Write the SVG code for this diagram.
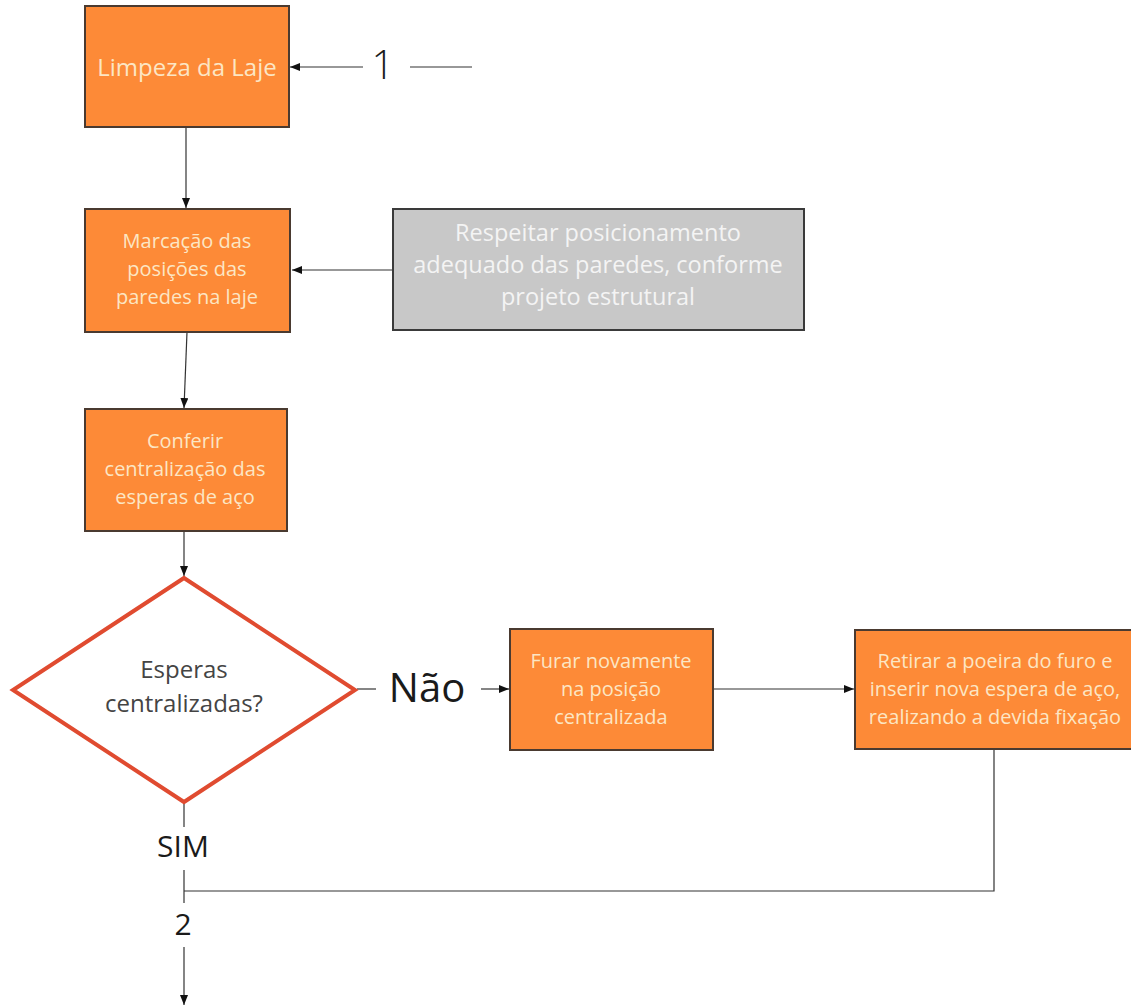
<svg xmlns="http://www.w3.org/2000/svg" width="1131" height="1007" viewBox="0 0 1131 1007">
<defs>
<style>
.box{fill:#FD8A37;stroke:#4a3a30;stroke-width:2}
.gray{fill:#C8C8C8;stroke:#3a3a3a;stroke-width:2}
.bt{font-family:"Open Sans","Noto Sans",sans-serif;font-size:20px;fill:#FCE6C4;text-anchor:middle}
.gt{font-family:"Open Sans","Noto Sans",sans-serif;font-size:23.5px;fill:#F4F4F4;text-anchor:middle}
.lbl{font-family:"Open Sans","Noto Sans",sans-serif;fill:#1a1a1a;text-anchor:middle}
.ln{fill:none;stroke:#333;stroke-width:1.2}
</style>
<marker id="ah" viewBox="0 0 10 8" refX="10" refY="4" markerWidth="10" markerHeight="8" markerUnits="userSpaceOnUse" orient="auto">
<path d="M0,0 L10,4 L0,8 Z" fill="#111"/>
</marker>
</defs>
<rect width="1131" height="1007" fill="#fff"/>
<g id="connectors">
<line class="ln" x1="363" y1="67" x2="290" y2="67" marker-end="url(#ah)"/>
<line class="ln" x1="410" y1="67" x2="472" y2="67"/>
<line class="ln" x1="186" y1="128" x2="186" y2="208" marker-end="url(#ah)"/>
<line class="ln" x1="392" y1="270" x2="292" y2="270" marker-end="url(#ah)"/>
<line class="ln" x1="187" y1="332" x2="184" y2="408" marker-end="url(#ah)"/>
<line class="ln" x1="184" y1="531" x2="184" y2="576" marker-end="url(#ah)"/>
<line class="ln" x1="357" y1="689" x2="376" y2="689"/>
<line class="ln" x1="481" y1="689" x2="509" y2="689" marker-end="url(#ah)"/>
<line class="ln" x1="714" y1="689" x2="854" y2="689" marker-end="url(#ah)"/>
<polyline class="ln" points="994,750 994,891 184,891"/>
<line class="ln" x1="184" y1="803" x2="184" y2="827"/>
<line class="ln" x1="184" y1="870" x2="184" y2="903"/>
<line class="ln" x1="184" y1="947" x2="184" y2="1005" marker-end="url(#ah)"/>
</g>
<g id="labels">
<text class="lbl" x="383" y="79" style="font-size:40px;font-weight:300">1</text>
<text class="lbl" x="427" y="702" style="font-size:40px">Não</text>
<text class="lbl" x="183" y="857" style="font-size:30px">SIM</text>
<text class="lbl" x="183" y="935" style="font-size:30px">2</text>
</g>
<g id="n1">
<rect class="box" x="85" y="6" width="204" height="121"/>
<text class="bt" x="187" y="76" style="font-size:24px">Limpeza da Laje</text>
</g>
<g id="n2">
<rect class="box" x="85" y="209" width="205" height="123"/>
<text class="bt" x="187" y="248">Marcação das</text>
<text class="bt" x="187" y="276">posições das</text>
<text class="bt" x="187" y="304">paredes na laje</text>
</g>
<g id="n_note">
<rect class="gray" x="393" y="209" width="411" height="121"/>
<text class="gt" x="598" y="241">Respeitar posicionamento</text>
<text class="gt" x="598" y="273">adequado das paredes, conforme</text>
<text class="gt" x="598" y="305">projeto estrutural</text>
</g>
<g id="n3">
<rect class="box" x="85" y="409" width="202" height="122"/>
<text class="bt" x="185" y="448">Conferir</text>
<text class="bt" x="185" y="476">centralização das</text>
<text class="bt" x="185" y="504">esperas de aço</text>
</g>
<g id="decision">
<polygon points="184,578 355,690 184,802 13,690" fill="#fff" stroke="#E04B30" stroke-width="4" stroke-linejoin="miter"/>
<text x="184" y="678" font-family="&quot;Open Sans&quot;,&quot;Noto Sans&quot;,sans-serif" font-size="24" fill="#444" text-anchor="middle">Esperas</text>
<text x="184" y="712" font-family="&quot;Open Sans&quot;,&quot;Noto Sans&quot;,sans-serif" font-size="24" fill="#444" text-anchor="middle">centralizadas?</text>
</g>
<g id="n4">
<rect class="box" x="510" y="629" width="203" height="121"/>
<text class="bt" x="611" y="668">Furar novamente</text>
<text class="bt" x="611" y="696">na posição</text>
<text class="bt" x="611" y="724">centralizada</text>
</g>
<g id="n5">
<rect class="box" x="855" y="630" width="282" height="119"/>
<text class="bt" x="995" y="668">Retirar a poeira do furo e</text>
<text class="bt" x="995" y="696">inserir nova espera de aço,</text>
<text class="bt" x="995" y="724">realizando a devida fixação</text>
</g>
</svg>
